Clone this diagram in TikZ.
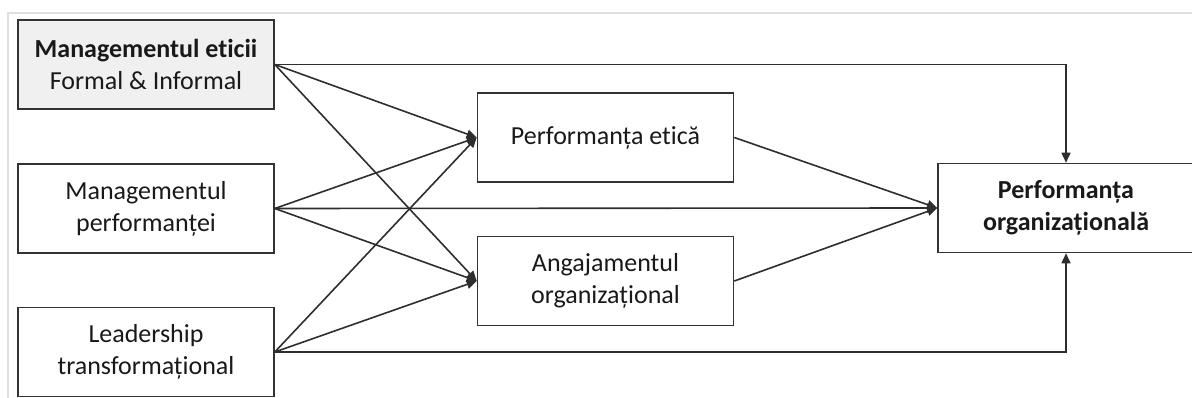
\documentclass[tikz,border=0pt]{standalone}
\usepackage{fontspec}
\setmainfont{Carlito}[Ligatures=NoCommon]
\usetikzlibrary{arrows.meta,positioning}
\begin{document}
\begin{tikzpicture}[x=1pt,y=-1pt,
  box/.style={draw=black!80,line width=1.6pt,minimum width=256pt,minimum height=89pt,
    align=center,inner sep=0pt,font=\fontsize{26}{32}\selectfont,text=black!90},
  conn/.style={draw=black!82,line width=1.6pt,-{Triangle[length=10pt,width=9pt]}}]
\useasboundingbox (0,0) rectangle (1192,398);
\draw[black!12,line width=1.5pt] (8,420) -- (8,13) -- (1200,13);
\node[box,fill=black!6] (A) at (146,64.5) {\textbf{Managementul eticii}\\Formal \& Informal};
\node[box] (B) at (146,208.5) {Managementul\\performanței};
\node[box] (C) at (146,352) {Leadership\\transformațional};
\node[box] (D) at (605.5,137.5) {Performanța etică};
\node[box] (E) at (605.5,281) {Angajamentul\\organizațional};
\node[box] (F) at (1066,208) {\textbf{Performanța}\\\textbf{organizațională}};
\draw[conn] (A.east) -- (D.west);
\draw[conn] (A.east) -- (E.west);
\draw[conn] (B.east) -- (D.west);
\draw[conn] (B.east) -- (E.west);
\draw[conn] (C.east) -- (D.west);
\draw[conn] (C.east) -- (E.west);
\draw[conn] (B.east) -- (F.west);
\draw[conn] (D.east) -- (F.west);
\draw[conn] (E.east) -- (F.west);
\draw[conn] (A.east) -| (F.north);
\draw[conn] (C.east) -| (F.south);
\end{tikzpicture}
\end{document}
